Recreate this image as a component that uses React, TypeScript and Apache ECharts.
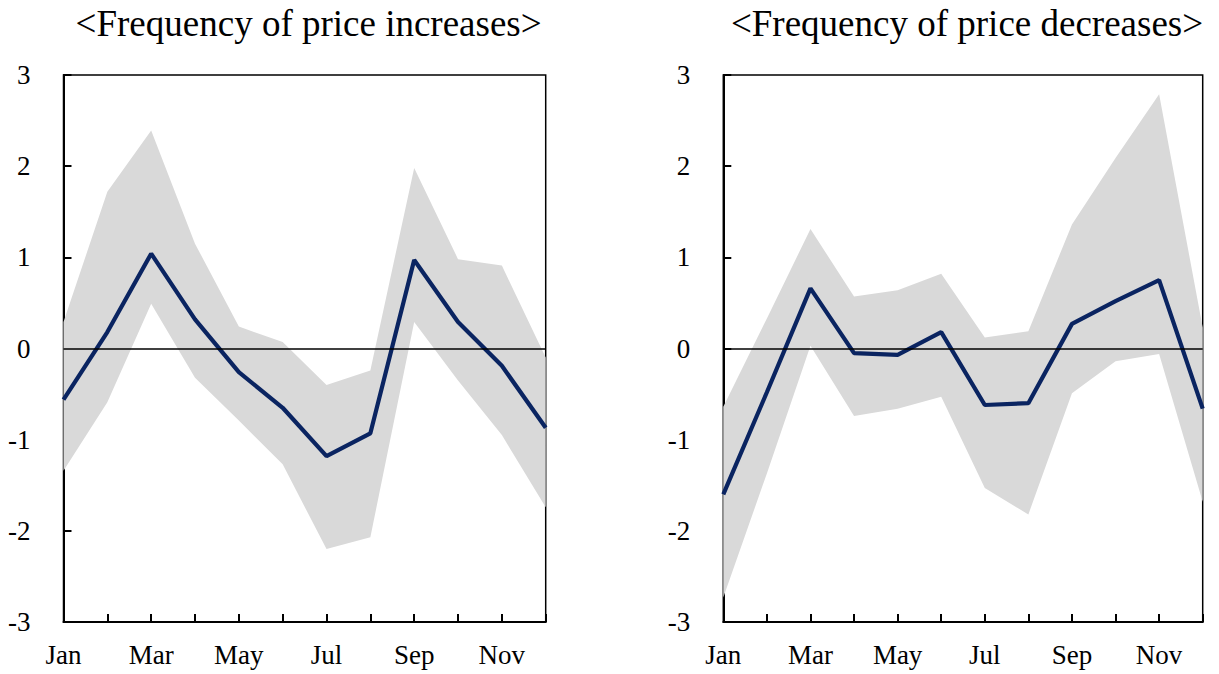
import React, { useEffect, useRef } from "react";
import * as echarts from "echarts";

const months = ["Jan", "Feb", "Mar", "Apr", "May", "Jun", "Jul", "Aug", "Sep", "Oct", "Nov", "Dec"];

const incLine = [-0.56, 0.18, 1.04, 0.32, -0.26, -0.65, -1.18, -0.93, 0.97, 0.29, -0.19, -0.87];
const incUpper = [0.29, 1.72, 2.39, 1.15, 0.24, 0.07, -0.4, -0.24, 1.98, 0.98, 0.91, -0.1];
const incLower = [-1.34, -0.59, 0.49, -0.32, -0.79, -1.27, -2.2, -2.07, 0.29, -0.35, -0.95, -1.74];

const decLine = [-1.6, -0.48, 0.66, -0.05, -0.07, 0.18, -0.62, -0.6, 0.27, 0.52, 0.75, -0.66];
const decUpper = [-0.64, 0.33, 1.31, 0.57, 0.64, 0.82, 0.12, 0.19, 1.36, 2.09, 2.79, 0.23];
const decLower = [-2.73, -1.37, 0.03, -0.74, -0.66, -0.53, -1.53, -1.82, -0.49, -0.14, -0.06, -1.68];

const titles = ["<Frequency of price increases>", "<Frequency of price decreases>"];
const yTicks = [-3, -2, -1, 0, 1, 2, 3];

const FONT = "Liberation Serif";
const LINE_COLOR = "#0a2461";
const BAND_COLOR = "#d9d9d9";

export default function App() {
  const ref = useRef<HTMLDivElement>(null);
  useEffect(() => {
    if (!ref.current) return;
    const chart = echarts.init(ref.current, undefined, { renderer: "svg" });
    const grids = [
      { left: 63.5, right: 1219 - 545.7, top: 75, bottom: 674 - 622 },
      { left: 723.3, right: 1219 - 1202.7, top: 75, bottom: 674 - 622 },
    ];
    const data = [
      { line: incLine, upper: incUpper, lower: incLower },
      { line: decLine, upper: decUpper, lower: decLower },
    ];
    const series: any[] = [];
    data.forEach((d, i) => {
      series.push({
        type: "line",
        xAxisIndex: i,
        yAxisIndex: i,
        stack: "band" + i,
        stackStrategy: "all",
        data: d.lower,
        symbol: "none",
        lineStyle: { opacity: 0 },
        silent: true,
        z: 1,
      });
      series.push({
        type: "line",
        xAxisIndex: i,
        yAxisIndex: i,
        stack: "band" + i,
        stackStrategy: "all",
        data: d.upper.map((u, k) => u - d.lower[k]),
        symbol: "none",
        lineStyle: { opacity: 0 },
        areaStyle: { color: BAND_COLOR, opacity: 1 },
        silent: true,
        z: 1,
      });
      series.push({
        type: "line",
        xAxisIndex: i,
        yAxisIndex: i,
        data: d.line,
        symbol: "none",
        lineStyle: { color: LINE_COLOR, width: 4.2 },
        z: 3,
        markLine: {
          silent: true,
          symbol: "none",
          label: { show: false },
          lineStyle: { color: "#000", width: 1.5, type: "solid" },
          data: [{ yAxis: 0 }],
          z: 4,
        },
      });
    });
    const gridCenters = grids.map((g) => (g.left + (1219 - g.right)) / 2);
    chart.setOption({
      animation: false,
      grid: grids.map((g) => ({ ...g, show: true, borderColor: "#000", borderWidth: 1.5, backgroundColor: "transparent" })),
      xAxis: [0, 1].map((i) => ({
        type: "category",
        gridIndex: i,
        data: months,
        boundaryGap: false,
        axisLine: { onZero: false, lineStyle: { color: "#000", width: 2 } },
        axisTick: { show: true, inside: true, length: 8, interval: 0, lineStyle: { color: "#000", width: 2 } },
        axisLabel: { interval: 1, color: "#000", fontFamily: FONT, fontSize: 27, margin: 19 },
        splitLine: { show: false },
      })),
      yAxis: [0, 1].map((i) => ({
        type: "value",
        gridIndex: i,
        min: yTicks[0],
        max: yTicks[yTicks.length - 1],
        interval: 1,
        axisLine: { show: true, onZero: false, lineStyle: { color: "#000", width: 2 } },
        axisTick: { show: true, inside: true, length: 8, lineStyle: { color: "#000", width: 2 } },
        axisLabel: { color: "#000", fontFamily: FONT, fontSize: 27, margin: 33 },
        splitLine: { show: false },
      })),
      graphic: titles.map((t, i) => ({
        type: "text",
        x: gridCenters[i] + 4,
        y: 5,
        style: {
          text: t,
          fontFamily: FONT,
          fontSize: 37,
          fill: "#000",
          align: "center",
          verticalAlign: "top",
        },
      })),
      series,
    });
    return () => chart.dispose();
  }, []);
  return <div ref={ref} style={{ position: "absolute", left: 0, top: 0, width: 1219, height: 674 }} />;
}
